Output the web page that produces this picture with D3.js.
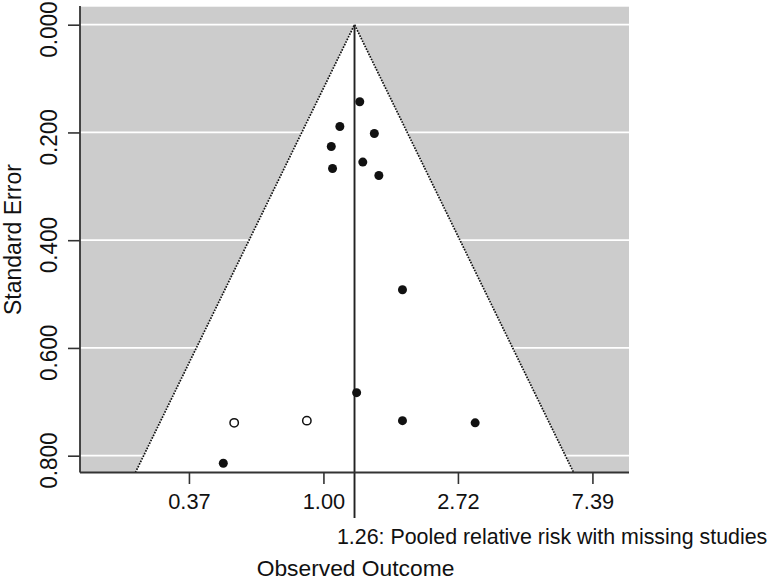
<!DOCTYPE html>
<html>
<head>
<meta charset="utf-8">
<script src="https://cdn.jsdelivr.net/npm/d3@7"></script>
<style>
  html, body { margin: 0; padding: 0; background: #fff; }
  svg { display: block; }
  text { font-family: "Liberation Sans", Arial, Helvetica, sans-serif; fill: #111; }
</style>
</head>
<body>
<svg id="chart" width="772" height="581"></svg>
<script>
// Observed studies (relative risk, standard error)
const studyRR = [1.31, 1.13, 1.46, 1.06, 1.34, 1.07, 1.51, 1.80, 1.28, 1.80, 3.09, 0.475];
const studySE = [0.143, 0.189, 0.202, 0.226, 0.255, 0.267, 0.280, 0.492, 0.683, 0.735, 0.739, 0.814];
// Imputed (missing) studies from trim-and-fill
const filledRR = [0.515, 0.884];
const filledSE = [0.739, 0.735];
// Pooled estimate
const pooledRR = 1.26;
// Axis ticks
const xTickValues = [Math.exp(-1), 1, Math.exp(1), Math.exp(2)];
const xTickLabels = ["0.37", "1.00", "2.72", "7.39"];
const yTickValues = [0, 0.2, 0.4, 0.6, 0.8];
const yTickLabels = ["0.000", "0.200", "0.400", "0.600", "0.800"];
const xTitle = "Observed Outcome";
const yTitle = "Standard Error";
const note = "1.26: Pooled relative risk with missing studies";

const svg = d3.select("#chart");
const L = 80, R = 629, T = 6.7, B = 472.5;

const x = d3.scaleLog().base(Math.E)
  .domain([Math.exp(-1.810), Math.exp(2.272)])
  .range([L, R]);
const y = d3.scaleLinear()
  .domain([-0.0334, 0.8312])
  .range([T, B]);

// grey background
svg.append("rect")
  .attr("x", L).attr("y", T)
  .attr("width", R - L).attr("height", B - T)
  .attr("fill", "#cccccc");

// white gridlines
svg.append("g").selectAll("line")
  .data(yTickValues).join("line")
  .attr("x1", L).attr("x2", R)
  .attr("y1", d => y(d)).attr("y2", d => y(d))
  .attr("stroke", "#ffffff").attr("stroke-width", 1.7);

// funnel region (95% pseudo-CI)
const seMax = y.domain()[1];
const lp = Math.log(pooledRR);
const funnelPts = [
  [Math.exp(lp - 1.96 * seMax), seMax],
  [pooledRR, 0],
  [Math.exp(lp + 1.96 * seMax), seMax]
];
svg.append("path")
  .attr("d", d3.line().x(d => x(d[0])).y(d => y(d[1]))(funnelPts) + "Z")
  .attr("fill", "#ffffff");

svg.append("path")
  .attr("d", d3.line().x(d => x(d[0])).y(d => y(d[1]))(funnelPts))
  .attr("fill", "none")
  .attr("stroke", "#111")
  .attr("stroke-width", 1.7)
  .attr("stroke-dasharray", "1.6,1.3");

// reference line at pooled estimate
svg.append("line")
  .attr("x1", x(pooledRR)).attr("x2", x(pooledRR))
  .attr("y1", y(0)).attr("y2", 518)
  .attr("stroke", "#222").attr("stroke-width", 1.9);

// observed points
svg.append("g").selectAll("circle")
  .data(studyRR.map((v, i) => [v, studySE[i]])).join("circle")
  .attr("cx", d => x(d[0])).attr("cy", d => y(d[1]))
  .attr("r", 4.5).attr("fill", "#111");

// imputed points
svg.append("g").selectAll("circle")
  .data(filledRR.map((v, i) => [v, filledSE[i]])).join("circle")
  .attr("cx", d => x(d[0])).attr("cy", d => y(d[1]))
  .attr("r", 4.2).attr("fill", "#fff")
  .attr("stroke", "#111").attr("stroke-width", 1.5);

// axes (L-shaped)
svg.append("line").attr("x1", L).attr("x2", L).attr("y1", T - 0.7).attr("y2", B)
  .attr("stroke", "#333").attr("stroke-width", 1.8);
svg.append("line").attr("x1", L).attr("x2", R).attr("y1", B).attr("y2", B)
  .attr("stroke", "#333").attr("stroke-width", 1.8);

// y ticks
const yAxis = d3.axisLeft(y).tickValues(yTickValues).tickSize(12)
  .tickFormat((d, i) => yTickLabels[i]);
const gy = svg.append("g").attr("transform", `translate(${L},0)`).call(yAxis);
gy.select(".domain").remove();
gy.selectAll(".tick line").attr("stroke", "#333").attr("stroke-width", 1.6);
gy.selectAll(".tick text")
  .attr("x", null).attr("dy", null)
  .attr("text-anchor", "middle")
  .attr("transform", "translate(-23,4.5) scale(1.1,1) rotate(-90)")
  .style("font-size", "22.5px")
  .style("font-family", "'Liberation Sans', Arial, sans-serif")
  .attr("fill", "#111");

// x ticks
const xAxis = d3.axisBottom(x).tickValues(xTickValues).tickSize(11.5)
  .tickFormat((d, i) => xTickLabels[i]);
const gx = svg.append("g").attr("transform", `translate(0,${B})`).call(xAxis);
gx.select(".domain").remove();
gx.selectAll(".tick line").attr("stroke", "#333").attr("stroke-width", 1.6);
gx.selectAll(".tick text")
  .attr("y", 36.8).attr("dy", null)
  .style("font-size", "21.8px")
  .style("font-family", "'Liberation Sans', Arial, sans-serif")
  .attr("fill", "#111");

// titles
svg.append("text")
  .attr("transform", `translate(21,${(T + B) / 2}) rotate(-90)`)
  .attr("text-anchor", "middle")
  .style("font-size", "23px")
  .text(yTitle);

svg.append("text")
  .attr("x", x(pooledRR) - 17.6).attr("y", 544)
  .style("font-size", "21.4px")
  .text(note);

svg.append("text")
  .attr("x", (L + R) / 2 + 1).attr("y", 576)
  .attr("text-anchor", "middle")
  .style("font-size", "22.8px")
  .text(xTitle);
</script>
</body>
</html>
